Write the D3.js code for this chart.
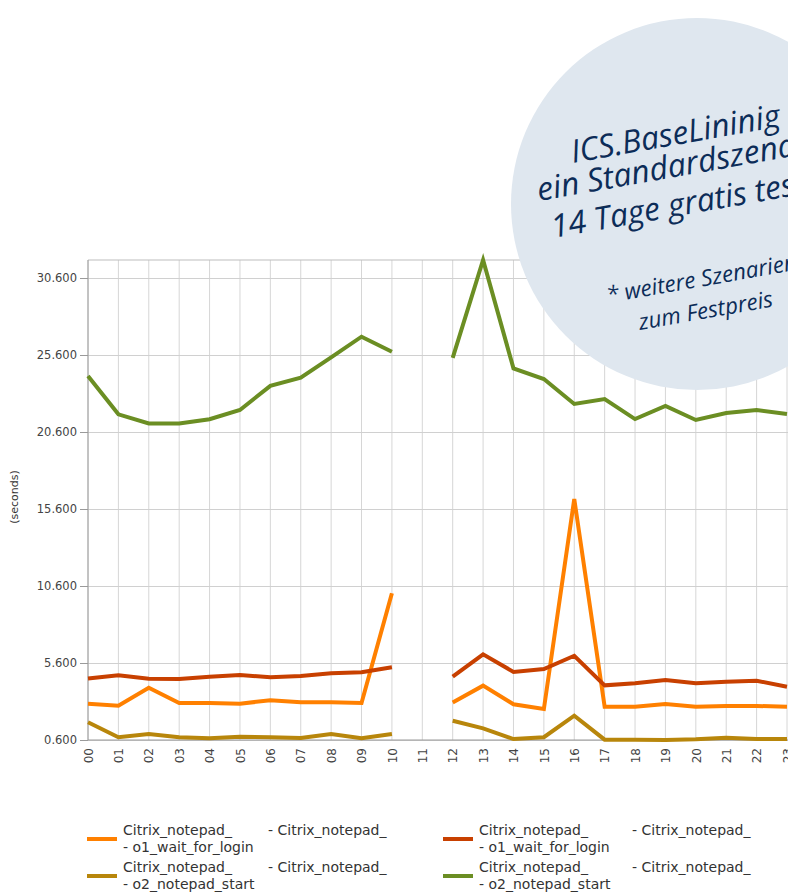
<!DOCTYPE html>
<html>
<head lang="de">
	<meta charset="UTF-8">
	<title>Citrix_notepad_ Antwortzeiten</title>
	<script src="https://d3js.org/d3.v7.min.js" charset="utf-8"></script>
	<style type="text/css">
		body { margin: 0; background: #fff; }
		svg { display: block; }
		.tick text { font-family: 'DejaVu Sans', Verdana, sans-serif; fill: #444; }
	</style>
</head>
<body>
	<svg class="graph" width="788" height="892" version="1.1" xmlns="http://www.w3.org/2000/svg"></svg>
	<script type="text/javascript">
		// hours of the day
		var categories = ['00', '01', '02', '03', '04', '05', '06', '07', '08', '09', '10', '11',
			'12', '13', '14', '15', '16', '17', '18', '19', '20', '21', '22', '23'];
		var yTicks = [0.6, 5.6, 10.6, 15.6, 20.6, 25.6, 30.6];

		// seconds, null = no measurement
		var waitLoginA = [2.96, 2.83, 3.99, 3.0, 3.0, 2.96, 3.18, 3.05, 3.05, 3.0, 10.13, null,
			3.03, 4.13, 2.92, 2.61, 16.25, 2.76, 2.76, 2.94, 2.76, 2.81, 2.81, 2.76];
		var waitLoginB = [4.6, 4.8, 4.58, 4.56, 4.71, 4.82, 4.67, 4.76, 4.93, 5.0, 5.32, null,
			4.71, 6.16, 5.02, 5.21, 6.07, 4.15, 4.28, 4.5, 4.28, 4.39, 4.45, 4.06];
		var notepadStartA = [1.75, 0.78, 0.99, 0.78, 0.71, 0.81, 0.78, 0.73, 0.99, 0.71, 0.99, null,
			1.85, 1.36, 0.66, 0.78, 2.18, 0.62, 0.62, 0.6, 0.65, 0.75, 0.66, 0.66];
		var notepadStartB = [24.24, 21.75, 21.16, 21.16, 21.43, 22.03, 23.6, 24.13, 25.45, 26.79, 25.81, null,
			25.42, 31.77, 24.73, 24.04, 22.42, 22.74, 21.44, 22.29, 21.38, 21.83, 22.03, 21.77];

		var series = [
			{ values: waitLoginA, color: '#ff8000', label: ['Citrix_notepad_', '- o1_wait_for_login'] },
			{ values: notepadStartA, color: '#b8860b', label: ['Citrix_notepad_', '- o2_notepad_start'] },
			{ values: waitLoginB, color: '#c84000', label: ['Citrix_notepad_', '- o1_wait_for_login'] },
			{ values: notepadStartB, color: '#6b8e23', label: ['Citrix_notepad_', '- o2_notepad_start'] }
		];

		var plotLeft = 88, plotRight = 787, plotTop = 260, plotBottom = 740;
		var svg = d3.select('svg');

		var allValues = [].concat(waitLoginA, waitLoginB, notepadStartA, notepadStartB).filter(function (v) { return v !== null; });
		var x = d3.scalePoint().domain(categories).range([plotLeft, plotRight]);
		var y = d3.scaleLinear().domain([yTicks[0], d3.max(allValues)]).range([plotBottom, plotTop]);

		// vertical grid
		svg.append('g').selectAll('line').data(categories).enter().append('line')
			.attr('x1', function (d) { return x(d); })
			.attr('x2', function (d) { return x(d); })
			.attr('y1', plotTop)
			.attr('y2', plotBottom)
			.attr('stroke', '#d6d6d6')
			.attr('stroke-width', 1);

		// horizontal grid
		var grid = svg.append('g')
			.attr('transform', 'translate(' + plotLeft + ',0)')
			.call(d3.axisLeft(y).tickValues(yTicks).tickSize(-(788 - plotLeft)).tickFormat(''));
		grid.select('.domain').remove();
		grid.selectAll('.tick line').attr('stroke', '#d0d0d0');

		svg.append('line')
			.attr('x1', plotLeft).attr('x2', 788)
			.attr('y1', plotTop).attr('y2', plotTop)
			.attr('stroke', '#bdbdbd');

		// y axis
		var yAxis = svg.append('g')
			.attr('transform', 'translate(' + plotLeft + ',0)')
			.call(d3.axisLeft(y).tickValues(yTicks).tickSize(8).tickPadding(3).tickFormat(d3.format('.3f')));
		yAxis.select('.domain').attr('stroke', '#9a9a9a').attr('d', 'M0,' + plotTop + 'V' + plotBottom);
		yAxis.selectAll('.tick line').attr('stroke', '#9a9a9a');
		yAxis.selectAll('.tick text').style('font-size', '11.5px');

		// x axis
		var xAxis = svg.append('g')
			.attr('transform', 'translate(0,' + plotBottom + ')')
			.call(d3.axisBottom(x).tickSize(0));
		xAxis.select('.domain').attr('stroke', '#9a9a9a').attr('d', 'M' + plotLeft + ',0H788');
		xAxis.selectAll('.tick text')
			.style('font-size', '12px')
			.attr('transform', 'rotate(-90)')
			.attr('text-anchor', 'end')
			.attr('x', -8)
			.attr('y', 0)
			.attr('dy', '0.35em');

		svg.append('text')
			.attr('transform', 'translate(14,497) rotate(-90)')
			.attr('text-anchor', 'middle')
			.attr('dy', '0.35em')
			.style('font-family', "'DejaVu Sans', Verdana, sans-serif")
			.style('font-size', '11px')
			.attr('fill', '#333')
			.text('(seconds)');

		// lines
		var line = d3.line()
			.defined(function (d) { return d !== null; })
			.x(function (d, i) { return x(categories[i]); })
			.y(function (d) { return y(d); });

		svg.append('g').selectAll('path').data([series[1], series[0], series[2], series[3]]).enter().append('path')
			.attr('d', function (s) { return line(s.values); })
			.attr('fill', 'none')
			.attr('stroke', function (s) { return s.color; })
			.attr('stroke-width', 4)
			.attr('stroke-linejoin', 'miter');

		// legend
		var legendPos = [[87, 839], [87, 876], [443, 839], [443, 876]];
		var legend = svg.append('g').selectAll('g').data(series).enter().append('g')
			.attr('transform', function (d, i) { return 'translate(' + legendPos[i][0] + ',' + legendPos[i][1] + ')'; })
			.style('font-family', "'DejaVu Sans', Verdana, sans-serif")
			.style('font-size', '14px')
			.attr('fill', '#333');
		legend.append('line')
			.attr('x1', 0).attr('x2', 30)
			.attr('y1', 0).attr('y2', 0)
			.attr('stroke', function (d) { return d.color; })
			.attr('stroke-width', 4);
		legend.append('text').attr('x', 36).attr('y', -4).text(function (d) { return d.label[0]; });
		legend.append('text').attr('x', 36).attr('y', 13).text(function (d) { return d.label[1]; });
		legend.append('text')
			.attr('x', function (d, i) { return i < 2 ? 181 : 189; })
			.attr('y', -4)
			.text('- Citrix_notepad_');

		// promo badge
		svg.append('circle')
			.attr('cx', 697).attr('cy', 204).attr('r', 186)
			.attr('fill', '#dfe7ef');

		var badgeLines = [
			{ text: 'ICS.BaseLininig', x: 573, y: 163, size: 32 },
			{ text: 'ein Standardszenario', x: 539, y: 201, size: 32 },
			{ text: '14 Tage gratis testen', x: 553, y: 238, size: 32 },
			{ text: '* weitere Szenarien', x: 608, y: 303, size: 22.5 },
			{ text: 'zum Festpreis', x: 640, y: 330, size: 22.5 }
		];
		svg.append('g').selectAll('text').data(badgeLines).enter().append('text')
			.attr('transform', function (d) { return 'translate(' + d.x + ',' + d.y + ') rotate(-10)'; })
			.style('font-family', "'Open Sans', 'Noto Sans', sans-serif")
			.style('font-style', 'italic')
			.style('font-size', function (d) { return d.size + 'px'; })
			.attr('fill', '#0c2c58')
			.text(function (d) { return d.text; });
	</script>
</body>
</html>
